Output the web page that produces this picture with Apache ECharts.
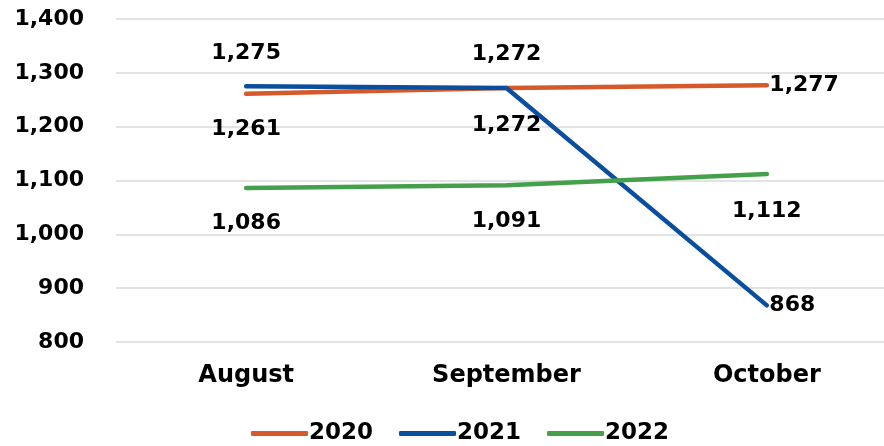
<!DOCTYPE html>
<html>
<head>
<meta charset="utf-8">
<script src="https://cdn.jsdelivr.net/npm/echarts@6/dist/echarts.min.js"></script>
<style>
  html, body { margin: 0; padding: 0; background: #ffffff; }
  #chart { width: 884px; height: 446px; }
</style>
</head>
<body>
<div id="chart"></div>
<script>
// Monthly totals by year
const months = ['August', 'September', 'October'];
const years = ['2020', '2021', '2022'];
const values2020 = [1261, 1272, 1277];
const values2021 = [1275, 1272, 868];
const values2022 = [1086, 1091, 1112];
const yTicks = [800, 900, 1000, 1100, 1200, 1300, 1400];

const FONT = '"DejaVu Sans", sans-serif';
const colors = ['#D5592A', '#0A4F9E', '#44A04B'];

const fmt = v => v.toLocaleString('en-US');

// label placement per point: [position, distance]
const placement2020 = [['bottom', 24], ['bottom', 26], ['right', 2]];
const placement2021 = [['top', 22], ['top', 22], ['right', 2]];
const placement2022 = [['bottom', 24], ['bottom', 24], ['bottom', 26]];

function buildData(values, placement) {
  return values.map((v, i) => ({
    value: v,
    label: { position: placement[i][0], distance: placement[i][1] }
  }));
}

function makeSeries(name, values, placement, color) {
  return {
    name: name,
    type: 'line',
    data: buildData(values, placement),
    symbol: 'circle',
    symbolSize: 1,
    itemStyle: { color: color },
    lineStyle: { color: color, width: 4.5, cap: 'round', join: 'round' },
    label: {
      show: true,
      formatter: p => fmt(p.value),
      color: '#000',
      fontFamily: FONT,
      fontWeight: 'bold',
      fontSize: 22
    },
    emphasis: { disabled: true },
    animation: false
  };
}

const chart = echarts.init(document.getElementById('chart'));
chart.setOption({
  animation: false,
  grid: {
    left: 116, width: 781, top: 19, bottom: 104,
    containLabel: false, outerBoundsMode: 'none'
  },
  legend: {
    bottom: -4,
    left: 246,
    itemWidth: 57,
    itemHeight: 5,
    itemGap: 26,
    icon: 'roundRect',
    textStyle: { fontFamily: FONT, fontWeight: 'bold', fontSize: 23, color: '#000', padding: [0, 0, 0, -4] },
    data: years.map((y, i) => ({ name: y, itemStyle: { color: colors[i] } }))
  },
  xAxis: {
    type: 'category',
    data: months,
    boundaryGap: true,
    axisLine: { show: false },
    axisTick: { show: false },
    axisLabel: { fontFamily: FONT, fontWeight: 'bold', fontSize: 24, color: '#000', margin: 22 }
  },
  yAxis: {
    type: 'value',
    min: yTicks[0],
    max: yTicks[yTicks.length - 1],
    interval: 100,
    axisLine: { show: false },
    axisTick: { show: false },
    splitLine: { lineStyle: { color: '#E3E3E3', width: 2 } },
    axisLabel: {
      fontFamily: FONT, fontWeight: 'bold', fontSize: 22, color: '#000', margin: 32,
      formatter: v => fmt(v)
    }
  },
  series: [
    makeSeries(years[0], values2020, placement2020, colors[0]),
    makeSeries(years[1], values2021, placement2021, colors[1]),
    makeSeries(years[2], values2022, placement2022, colors[2])
  ]
});
</script>
</body>
</html>
